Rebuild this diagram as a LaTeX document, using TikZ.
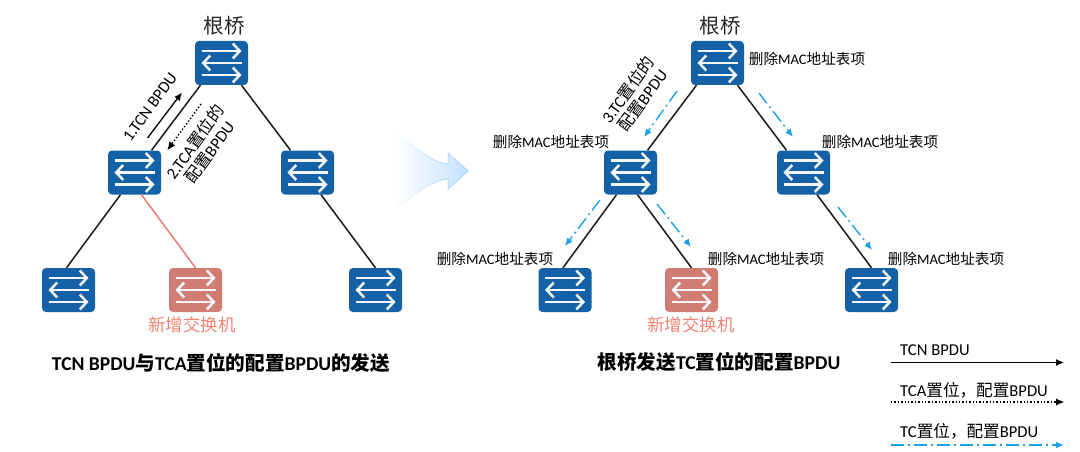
\documentclass[tikz,border=0pt]{standalone}
\usepackage{fontspec}
\setmainfont{Carlito}
\newfontfamily\cjk{Noto Sans CJK SC}
\newcommand{\zh}[1]{{\cjk #1}}
\usetikzlibrary{arrows.meta,fadings}
\definecolor{swblue}{HTML}{1461A8}
\definecolor{swred}{HTML}{D27D73}
\definecolor{newline}{HTML}{F0796A}
\definecolor{newtext}{HTML}{F08272}
\definecolor{tcblue}{HTML}{1BA1E6}
\definecolor{bigarrow}{HTML}{C4E1FF}
\definecolor{bigborder}{HTML}{A9D3FF}
\tikzstyle{switch}=[rectangle,rounded corners=4pt,inner sep=0pt,minimum width=53pt,minimum height=44pt,path picture={
	\begin{scope}[shift={(path picture bounding box.center)}]
		\draw[swarrow] (-20,-12)--(20,-12);
		\draw[swarrow] (20,0)--(-20,0);
		\draw[swarrow] (-20,12)--(20,12);
	\end{scope}}]
\tikzstyle{swarrow}=[white!95!swblue,line width=2.2pt,-{Straight Barb[length=7pt,width=15pt,line width=2.5pt]}]
\tikzstyle{sw}=[switch,fill=swblue]
\tikzstyle{swnew}=[switch,fill=swred]
\tikzstyle{link}=[black!90,line width=1.5pt]
\tikzstyle{tcn}=[black,line width=1.3pt,-{Latex[length=8pt,width=7pt]}]
\tikzstyle{tca}=[black,line width=1.4pt,dotted,-{Latex[length=8pt,width=7pt,line width=0pt,sep=0pt]}]
\tikzstyle{tc}=[tcblue,line width=1.4pt,dash pattern=on 13pt off 4pt on 2pt off 4pt,-{Latex[length=8pt,width=7pt]}]
\tikzstyle{del}=[inner sep=0pt,font=\fontsize{14.6}{16}\selectfont]
\tikzstyle{roottext}=[inner sep=0pt,font=\fontsize{20.5}{22}\selectfont,text=black!85]
\tikzstyle{newsw}=[inner sep=0pt,font=\fontsize{17.4}{19}\selectfont,text=newtext]
\tikzstyle{flow}=[inner sep=0pt,rotate=54,align=center,font=\fontsize{16.5}{18}\selectfont]
\tikzstyle{caption}=[inner sep=0pt,font=\fontsize{19.6}{21}\selectfont\bfseries]
\tikzstyle{legend}=[inner sep=0pt,anchor=west,font=\fontsize{16.6}{18}\selectfont]
\newcommand{\delmac}{\zh{删除}MAC\zh{地址表项}}
\begin{document}
\begin{tikzpicture}[x=1pt,y=-1pt]
	\useasboundingbox (0,0) rectangle (1080,452);
	% left tree
	\node[sw] (a0) at (221.5,63) {};
	\node[sw] (a1) at (134.5,172.5) {};
	\node[sw] (a2) at (307.5,172.5) {};
	\node[sw] (a3) at (68.5,290) {};
	\node[swnew] (a4) at (195.5,290) {};
	\node[sw] (a5) at (375.5,290) {};
	\draw[link] ([xshift=-21pt]a0.south)--([xshift=17pt]a1.north);
	\draw[link] ([xshift=20pt]a0.south)--([xshift=-17pt]a2.north);
	\draw[link] ([xshift=-14pt]a1.south)--([xshift=-2pt]a3.north);
	\draw[newline,line width=1.5pt] ([xshift=7pt]a1.south)--(a4.north);
	\draw[link] ([xshift=13.5pt]a2.south)--(a5.north);
	\node[roottext] (a0t) at (224,26) {\zh{根桥}};
	\node[newsw] (a4t) at (192,325) {\zh{新增交换机}};
	\node[flow] (f1) at (150,107) {1.TCN BPDU};
	\node[flow] (f2) at (202,147) {2.TCA\zh{置位的}\\\zh{配置}BPDU};
	\coordinate (f1s) at (147.5,138);
	\coordinate (f1e) at (182,92.5);
	\coordinate (f2s) at (201,104);
	\coordinate (f2e) at (167.5,150);
	\draw[tcn] (f1s)--(f1e);
	\draw[tca] (f2s)--(f2e);
	\node[caption] (c1) at (221,363) {TCN BPDU\zh{与}TCA\zh{置位的配置}BPDU\zh{的发送}};
	% big arrow in the middle
	\path[fill=bigarrow,draw=bigborder,line width=1pt,path fading=west] (395,132) .. controls (415,146) and (430,162) .. (448,164)--(448,153)--(468,171)--(448,189)--(448,179) .. controls (430,181) and (415,194) .. (395,210)--cycle;
	% right tree
	\node[sw] (b0) at (717.5,63) {};
	\node[sw] (b1) at (630.5,172.5) {};
	\node[sw] (b2) at (803.5,172.5) {};
	\node[sw] (b3) at (565,290) {};
	\node[swnew] (b4) at (691.5,290) {};
	\node[sw] (b5) at (871.5,290) {};
	\draw[link] ([xshift=-21pt]b0.south)--([xshift=17pt]b1.north);
	\draw[link] ([xshift=20pt]b0.south)--([xshift=-17pt]b2.north);
	\draw[link] ([xshift=-14pt]b1.south)--([xshift=-2pt]b3.north);
	\draw[link] ([xshift=7pt]b1.south)--(b4.north);
	\draw[link] ([xshift=13.5pt]b2.south)--(b5.north);
	\node[roottext] (b0t) at (720,26) {\zh{根桥}};
	\node[newsw] (b4t) at (691,325) {\zh{新增交换机}};
	\node[flow] (f3) at (635,95) {3.TC\zh{置位的}\\\zh{配置}BPDU};
	\coordinate (f3s) at (677,91);
	\coordinate (f3e) at (644,137);
	\coordinate (f4s) at (759,93);
	\coordinate (f4e) at (793,137);
	\coordinate (f5s) at (600,200);
	\coordinate (f5e) at (565,246);
	\coordinate (f6s) at (657,204);
	\coordinate (f6e) at (691,247);
	\coordinate (f7s) at (838,207);
	\coordinate (f7e) at (872,250);
	\foreach \s/\e in {f3s/f3e,f4s/f4e,f5s/f5e,f6s/f6e,f7s/f7e}
		\draw[tc] (\s)--(\e);
	\node[del] (d0) at (807,59) {\delmac};
	\node[del] (d1) at (551,142) {\delmac};
	\node[del] (d2) at (880,142) {\delmac};
	\node[del] (d3) at (495,259) {\delmac};
	\node[del] (d4) at (766,259) {\delmac};
	\node[del] (d5) at (946,259) {\delmac};
	\node[caption] (c2) at (719,362) {\zh{根桥发送}TC\zh{置位的配置}BPDU};
	% legend
	\node[legend] (l1) at (900,350) {TCN BPDU};
	\node[legend] (l2) at (900,390) {TCA\zh{置位，配置}BPDU};
	\node[legend] (l3) at (900,431) {TC\zh{置位，配置}BPDU};
	\coordinate (l1s) at (891,362.5);
	\coordinate (l1e) at (1064,362.5);
	\coordinate (l2s) at (891,402);
	\coordinate (l2e) at (1064,402);
	\coordinate (l3s) at (891,445);
	\coordinate (l3e) at (1064,445);
	\draw[tcn] (l1s)--(l1e);
	\draw[tca] (l2s)--(l2e);
	\draw[tc] (l3s)--(l3e);
\end{tikzpicture}
\end{document}
